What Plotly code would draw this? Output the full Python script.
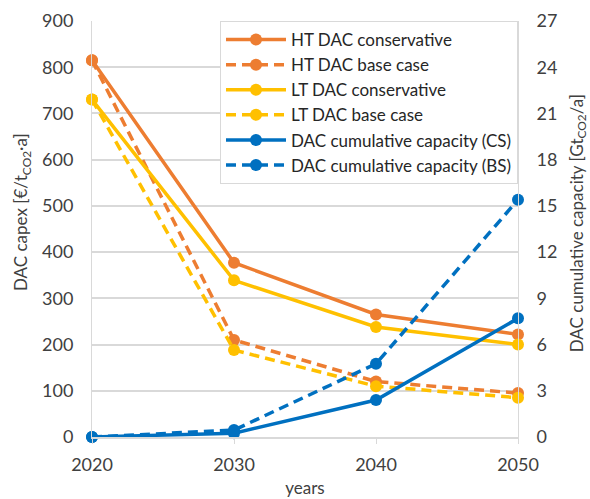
import plotly.graph_objects as go

years = [2020, 2030, 2040, 2050]

# DAC capex [€/tCO2·a]
ht_conservative = [815, 377, 265, 222]
ht_base = [815, 210, 120, 95]
lt_conservative = [730, 339, 238, 200]
lt_base = [730, 188, 110, 85]

# DAC cumulative capacity [GtCO2/a]
cap_cs = [0, 0.25, 2.4, 7.7]
cap_bs = [0, 0.45, 4.75, 15.4]

ORANGE = "#ED7D31"
YELLOW = "#FFC000"
BLUE = "#0070C0"
TEXT = "#404040"
GRID = "#d9d9d9"
FONT = "Lato, 'Open Sans', sans-serif"
DASH = "10px,6px"

fig = go.Figure()

def add(name, y, color, dash, axis="y"):
    fig.add_trace(go.Scatter(
        x=years, y=y, name=name, yaxis=axis, mode="lines+markers",
        line=dict(color=color, width=3.5, dash=dash),
        marker=dict(color=color, size=12),
        cliponaxis=False,
    ))

add("HT DAC conservative", ht_conservative, ORANGE, "solid")
add("HT DAC base case", ht_base, ORANGE, DASH)
add("LT DAC conservative", lt_conservative, YELLOW, "solid")
add("LT DAC base case", lt_base, YELLOW, DASH)
add("DAC cumulative capacity (CS)", cap_cs, BLUE, "solid", "y2")
add("DAC cumulative capacity (BS)", cap_bs, BLUE, DASH, "y2")

fig.update_layout(
    width=590, height=499,
    margin=dict(l=92, r=72, t=21, b=62),
    paper_bgcolor="white", plot_bgcolor="white",
    font=dict(family=FONT, size=18, color=TEXT),
    showlegend=True,
    legend=dict(
        x=1, y=1, xanchor="right", yanchor="top",
        bgcolor="white", bordercolor=GRID, borderwidth=1,
        font=dict(size=17, color="#262626"),
        itemwidth=60,
        tracegroupgap=0,
    ),
    xaxis=dict(
        range=[2020, 2050], tickvals=years, showgrid=False,
        showline=True, linecolor=GRID, linewidth=1.5,
        ticks="outside", ticklen=5, tickcolor=GRID,
        ticklabelstandoff=6, automargin=False,
        title=dict(text="years", standoff=8, font=dict(size=17)),
        zeroline=False,
    ),
    yaxis=dict(
        range=[0, 900], dtick=100, showgrid=True, gridcolor=GRID, gridwidth=1.5,
        showline=True, linecolor=GRID, zeroline=False, ticks="",
        ticklabelstandoff=14, automargin=False,
    ),
    yaxis2=dict(
        range=[0, 27], dtick=3, overlaying="y", side="right", showgrid=False,
        showline=True, linecolor=GRID, zeroline=False, ticks="",
        ticklabelstandoff=14, automargin=False,
    ),
    annotations=[
        dict(text="DAC capex [€/t<sub>CO2</sub>·a]", textangle=-90,
             xref="paper", yref="paper", x=-0.164, y=0.541,
             xanchor="center", yanchor="middle", showarrow=False,
             font=dict(size=17, color=TEXT)),
        dict(text="DAC cumulative capacity [Gt<sub>CO2</sub>/a]", textangle=-90,
             xref="paper", yref="paper", x=1.141, y=0.514,
             xanchor="center", yanchor="middle", showarrow=False,
             font=dict(size=17, color=TEXT)),
    ],
)

fig.write_html("out.html")
